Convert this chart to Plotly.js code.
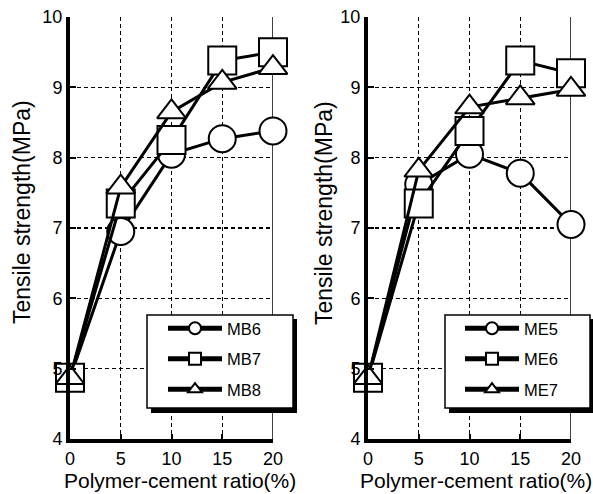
<!DOCTYPE html>
<html><head><meta charset="utf-8">
<script src="https://cdn.plot.ly/plotly-3.0.1.min.js"></script>
<style>html,body{margin:0;padding:0;background:#fff}#chart{width:593px;height:494px}</style>
</head><body><div id="chart"></div>
<script>
// Data
const ratio = [0, 5, 10, 15, 20];
const mb6 = [4.87, 6.95, 8.05, 8.27, 8.38];
const mb7 = [4.87, 7.35, 8.25, 9.38, 9.50];
const mb8 = [4.87, 7.58, 8.65, 9.07, 9.28];
const me5 = [4.87, 7.62, 8.05, 7.78, 7.05];
const me6 = [4.87, 7.35, 8.38, 9.38, 9.20];
const me7 = [4.87, 7.82, 8.72, 8.85, 8.97];
const namesLeft = ['MB6', 'MB7', 'MB8'];
const namesRight = ['ME5', 'ME6', 'ME7'];
const xTicks = [0, 5, 10, 15, 20];
const yTicks = [4, 5, 6, 7, 8, 9, 10];
const xTitle = 'Polymer-cement ratio(%)';
const yTitle = 'Tensile strength(MPa)';

// Styles
const symbols = ['circle', 'square', 'triangle-up'];
const sizes = [27, 28, 25];
const FONT = 'Liberation Sans, Arial, Helvetica, sans-serif';
const W = 593, H = 494, ML = 70, MR = 22, MT = 17, MB = 55;
const PW = W - ML - MR, PH = H - MT - MB;
const px = p => (p - ML) / PW;
const py = p => (H - MB - p) / PH;

function mk(name, y, i, xa, ya, lg) {
  return {
    x: ratio, y: y, name: name, type: 'scatter', mode: 'lines+markers',
    xaxis: xa, yaxis: ya, legend: lg, legendgroup: name, cliponaxis: false,
    line: {color: '#000', width: 3},
    marker: {symbol: symbols[i], size: sizes[i], color: '#fff', line: {color: '#000', width: 2}}
  };
}
const leftData = [mb6, mb7, mb8];
const rightData = [me5, me6, me7];
const traces = [];
leftData.forEach((d, i) => traces.push(mk(namesLeft[i], d, i, 'x', 'y', 'legend')));
rightData.forEach((d, i) => traces.push(mk(namesRight[i], d, i, 'x2', 'y2', 'legend2')));

function xax(domain) {
  return {
    domain: domain, range: [0, 20], tickvals: xTicks, showline: true, linewidth: 4, linecolor: '#000',
    showgrid: true, gridcolor: '#000', gridwidth: 1.3, griddash: '4px,3px', zeroline: false,
    ticks: 'inside', ticklen: 5, tickwidth: 2, tickcolor: '#000',
    tickfont: {family: FONT, size: 18, color: '#000'}
  };
}
function yax(anchor) {
  return {
    domain: [0, 1], range: [4, 10], tickvals: yTicks, anchor: anchor, showline: true, linewidth: 4, linecolor: '#000',
    showgrid: true, gridcolor: '#000', gridwidth: 1.3, griddash: '4px,3px', zeroline: false,
    ticks: 'inside', ticklen: 6, tickwidth: 2, tickcolor: '#000',
    tickfont: {family: FONT, size: 18, color: '#000'}
  };
}
function legend(x, y) {
  return {
    x: x, y: y, xanchor: 'left', yanchor: 'top', bgcolor: 'rgba(0,0,0,0)', borderwidth: 0,
    itemwidth: 54, itemsizing: 'constant', tracegroupgap: 6,
    font: {family: FONT, size: 16.5, color: '#000'}
  };
}
function box(l, t, r, b) {
  return [
    {type: 'rect', xref: 'paper', yref: 'paper', layer: 'above', x0: px(l + 4), x1: px(r + 4), y0: py(b + 5), y1: py(t + 4),
     fillcolor: '#000', line: {width: 0}},
    {type: 'rect', xref: 'paper', yref: 'paper', layer: 'above', x0: px(l), x1: px(r), y0: py(b), y1: py(t),
     fillcolor: '#fff', line: {color: '#000', width: 1.5}}
  ];
}
const shapes = [
  {type: 'line', xref: 'x', yref: 'y domain', x0: 20, x1: 20, y0: 0, y1: 1, layer: 'below', line: {color: '#000', width: 1.5}},
  {type: 'line', xref: 'x2', yref: 'y2 domain', x0: 20, x1: 20, y0: 0, y1: 1, layer: 'below', line: {color: '#000', width: 1.5}}
].concat(box(147, 315, 293, 408)).concat(box(445, 315, 590, 408));

function title(text, cx, cy, angle, size) {
  return {text: text, xref: 'paper', yref: 'paper', x: px(cx), y: py(cy), xanchor: 'center', yanchor: 'middle',
          textangle: angle, showarrow: false, font: {family: FONT, size: size, color: '#000'}};
}
const annotations = [
  title(xTitle, 180, 480, 0, 21),
  title(xTitle, 476, 480, 0, 21),
  title(yTitle, 22, 212, -90, 23),
  title(yTitle, 324, 213, -90, 23)
];

const layout = {
  width: W, height: H, margin: {l: ML, r: MR, t: MT, b: MB},
  paper_bgcolor: '#fff', plot_bgcolor: '#fff', showlegend: true,
  font: {family: FONT, color: '#000'},
  xaxis: Object.assign(xax([0, px(273)]), {anchor: 'y'}),
  yaxis: yax('x'),
  xaxis2: Object.assign(xax([px(368), px(571)]), {anchor: 'y2'}),
  yaxis2: yax('x2'),
  legend: legend(px(163), py(311)),
  legend2: legend(px(460), py(311)),
  shapes: shapes,
  annotations: annotations
};
Plotly.newPlot('chart', traces, layout, {staticPlot: true});
</script></body></html>
